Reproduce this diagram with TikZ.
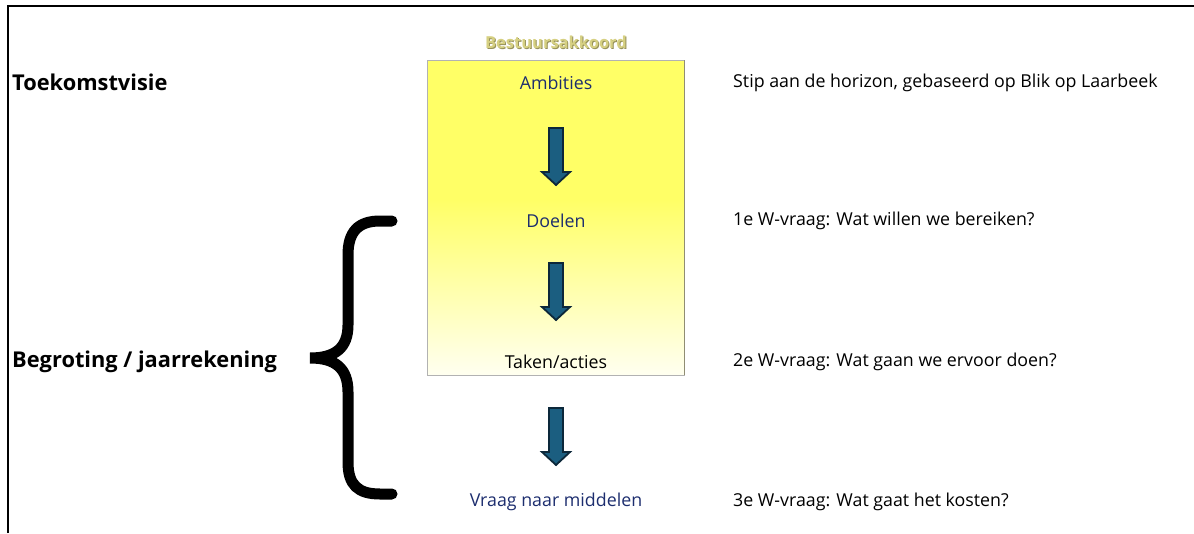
\documentclass[tikz,border=0pt]{standalone}
\usepackage{fontspec}
\setmainfont{Open Sans}
\definecolor{ylw}{RGB}{255,255,102}
\definecolor{ylwlight}{RGB}{255,255,240}
\definecolor{navy}{RGB}{28,45,110}
\definecolor{arrfill}{RGB}{27,94,128}
\definecolor{arrline}{RGB}{12,40,58}
\definecolor{khaki}{RGB}{214,208,130}
\definecolor{khakishadow}{RGB}{150,145,90}
\tikzset{
  lbl/.style={font=\fontsize{17.8}{20}\selectfont, text=navy, inner sep=0pt, anchor=center},
  rtxt/.style={font=\fontsize{17.8}{20}\selectfont, text=black, inner sep=0pt, anchor=west},
  head/.style={font=\bfseries\fontsize{21.8}{24}\selectfont, text=black, inner sep=0pt, anchor=west},
  blockarrow/.style={fill=arrfill, draw=arrline, line width=1.8pt, line join=miter}
}
\newcommand{\blockarr}[2]{% x, ytop
  \draw[blockarrow] (#1-7,#2) -- (#1+7,#2) -- (#1+7,#2+44) -- (#1+14,#2+44) -- (#1,#2+57) -- (#1-14,#2+44) -- (#1-7,#2+44) -- cycle;
}
\begin{document}
\begin{tikzpicture}[x=1pt,y=-1pt]
\useasboundingbox (0,0) rectangle (1194,533);
% frame
\draw[line width=2.2pt] (8,533) -- (8,6) -- (1194,6);
% yellow box
\fill[ylw] (427,60) rectangle (684,200);
\shade[top color=ylw, bottom color=ylwlight] (427,199.5) rectangle (684,375);
\draw[gray!60, line width=0.8pt] (427,60) rectangle (684,375);
\draw[gray!80!olive, line width=1pt] (684,60) -- (684,375);
% title with shadow
\node[font=\bfseries\fontsize{16.5}{18}\selectfont, text=khakishadow, inner sep=0pt] (bks) at (557,43) {Bestuursakkoord};
\node[font=\bfseries\fontsize{16.5}{18}\selectfont, text=khaki, inner sep=0pt] (bk) at (556,42) {Bestuursakkoord};
% center labels
\node[lbl] (amb) at (556,83) {Ambities};
\node[lbl] (doe) at (556,221) {Doelen};
\node[lbl, text=black] (tak) at (556,362) {Taken/acties};
\node[lbl] (vra) at (556,502) {Vraag naar middelen};
% arrows
\blockarr{556}{128}
\blockarr{556}{263}
\blockarr{556}{408}
% left headings
\node[head] (tv) at (12,82) {Toekomstvisie};
\node[head] (bj) at (12,362) {Begroting / jaarrekening};
% right texts
\node[rtxt] (r1) at (733,83) {Stip aan de horizon, gebaseerd op Blik op Laarbeek};
\node[rtxt] (r2) at (733,221) {1e W-vraag: Wat willen we bereiken?};
\node[rtxt] (r3) at (733,362) {2e W-vraag: Wat gaan we ervoor doen?};
\node[rtxt] (r4) at (733,502) {3e W-vraag: Wat gaat het kosten?};
% brace
\draw[line width=11pt, line cap=round] (392,221) -- (380,221)
  .. controls (358,221) and (348,232) .. (348,255) -- (348,325)
  .. controls (348,348) and (335,358) .. (310,358)
  .. controls (335,358) and (348,368) .. (348,392) -- (348,462)
  .. controls (348,485) and (358,494) .. (380,494) -- (392,494);
\end{tikzpicture}
\end{document}
